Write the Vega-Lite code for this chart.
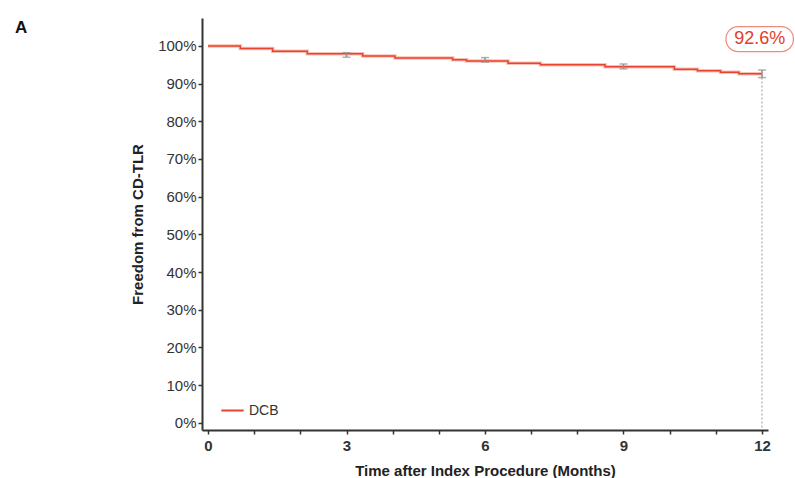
{
  "$schema": "https://vega.github.io/schema/vega-lite/v6.json",
  "width": 566,
  "height": 412,
  "autosize": "none",
  "padding": {"left": 202, "top": 18, "right": 27, "bottom": 48},
  "background": "white",
  "config": {
    "view": {"stroke": null},
    "font": "Liberation Sans",
    "axis": {"grid": false, "domainColor": "#333", "domainWidth": 2, "tickColor": "#333", "tickWidth": 1.5, "tickSize": 4, "labelColor": "#333", "titleColor": "#222", "labelFont": "Liberation Sans", "titleFont": "Liberation Sans"}
  },
  "datasets": {
    "curve": [
      {"month": 0, "surv": 100, "group": "DCB"},
      {"month": 0.7, "surv": 99.3, "group": "DCB"},
      {"month": 1.4, "surv": 98.6, "group": "DCB"},
      {"month": 2.15, "surv": 97.9, "group": "DCB"},
      {"month": 3.35, "surv": 97.3, "group": "DCB"},
      {"month": 4.05, "surv": 96.8, "group": "DCB"},
      {"month": 5.3, "surv": 96.3, "group": "DCB"},
      {"month": 5.6, "surv": 96.0, "group": "DCB"},
      {"month": 6.5, "surv": 95.4, "group": "DCB"},
      {"month": 7.2, "surv": 95.0, "group": "DCB"},
      {"month": 8.6, "surv": 94.5, "group": "DCB"},
      {"month": 10.1, "surv": 93.8, "group": "DCB"},
      {"month": 10.6, "surv": 93.4, "group": "DCB"},
      {"month": 11.1, "surv": 93.0, "group": "DCB"},
      {"month": 11.5, "surv": 92.6, "group": "DCB"},
      {"month": 12, "surv": 92.6, "group": "DCB"}
    ],
    "ci": [
      {"month": 3, "lo": 97.0, "hi": 98.2},
      {"month": 6, "lo": 95.7, "hi": 96.9},
      {"month": 9, "lo": 93.9, "hi": 95.2},
      {"month": 12, "lo": 91.6, "hi": 93.6}
    ],
    "drop": [{"month": 12, "top": 91.6, "bottom": -1.9}],
    "box": [{"x1": 11.22, "x2": 12.68, "y1": 98.5, "y2": 105.1, "label": "92.6%", "xm": 11.95, "ym": 101.8}],
    "panel": [{"px": -4.05, "py": 104.8, "label": "A"}]
  },
  "layer": [
    {
      "data": {"name": "drop"},
      "mark": {"type": "rule", "strokeDash": [2, 2], "color": "#9a9a9a", "strokeWidth": 1},
      "encoding": {
        "x": {"field": "month", "type": "quantitative", "scale": {"domain": [-0.13, 12.13], "nice": false, "zero": false},
          "axis": {"values": [0,1,2,3,4,5,6,7,8,9,10,11,12], "labelExpr": "datum.value % 3 === 0 ? datum.label : ''", "title": "Time after Index Procedure (Months)", "titleFontSize": 15, "titleFontWeight": "bold", "titlePadding": 10, "labelFontSize": 15, "labelFontWeight": "bold", "labelPadding": 4, "labelFlush": false}},
        "y": {"field": "top", "type": "quantitative", "scale": {"domain": [-1.9, 107.4], "nice": false, "zero": false},
          "axis": {"values": [0,10,20,30,40,50,60,70,80,90,100], "labelExpr": "datum.value + '%'", "title": "Freedom from CD-TLR", "titleFontSize": 15, "titleFontWeight": "bold", "titlePadding": 12, "labelFontSize": 15, "labelPadding": 2}},
        "y2": {"field": "bottom"}
      }
    },
    {
      "data": {"name": "curve"},
      "mark": {"type": "line", "interpolate": "step-after", "color": "#f8c0b6", "strokeWidth": 3.5},
      "encoding": {
        "x": {"field": "month", "type": "quantitative"},
        "y": {"field": "surv", "type": "quantitative"}
      }
    },
    {
      "data": {"name": "curve"},
      "mark": {"type": "line", "interpolate": "step-after", "strokeWidth": 1.5},
      "encoding": {
        "x": {"field": "month", "type": "quantitative"},
        "y": {"field": "surv", "type": "quantitative"},
        "color": {"field": "group", "type": "nominal", "scale": {"range": ["#e8432c"]},
          "legend": {"title": null, "orient": "none", "legendX": 18, "legendY": 380, "symbolType": "stroke", "symbolStrokeWidth": 2, "symbolSize": 500, "labelFontSize": 14, "labelColor": "#333", "labelFont": "Liberation Sans", "symbolStrokeColor": "#f07a68"}}
      }
    },
    {
      "data": {"name": "ci"},
      "mark": {"type": "rule", "color": "#8f8f8f", "strokeWidth": 1.5},
      "encoding": {
        "x": {"field": "month", "type": "quantitative"},
        "y": {"field": "lo", "type": "quantitative"},
        "y2": {"field": "hi"}
      }
    },
    {
      "data": {"name": "ci"},
      "mark": {"type": "tick", "orient": "horizontal", "color": "#8f8f8f", "thickness": 1.5, "size": 8},
      "encoding": {
        "x": {"field": "month", "type": "quantitative"},
        "y": {"field": "lo", "type": "quantitative"}
      }
    },
    {
      "data": {"name": "ci"},
      "mark": {"type": "tick", "orient": "horizontal", "color": "#8f8f8f", "thickness": 1.5, "size": 8},
      "encoding": {
        "x": {"field": "month", "type": "quantitative"},
        "y": {"field": "hi", "type": "quantitative"}
      }
    },
    {
      "data": {"name": "box"},
      "mark": {"type": "rect", "fill": "white", "stroke": "#f08a7a", "strokeWidth": 1.2, "cornerRadius": 12},
      "encoding": {
        "x": {"field": "x1", "type": "quantitative"},
        "x2": {"field": "x2"},
        "y": {"field": "y1", "type": "quantitative"},
        "y2": {"field": "y2"}
      }
    },
    {
      "data": {"name": "box"},
      "mark": {"type": "text", "color": "#e0402a", "fontSize": 18, "font": "Liberation Sans", "align": "center", "baseline": "middle"},
      "encoding": {
        "x": {"field": "xm", "type": "quantitative"},
        "y": {"field": "ym", "type": "quantitative"},
        "text": {"field": "label"}
      }
    },
    {
      "data": {"name": "panel"},
      "mark": {"type": "text", "color": "#111", "fontSize": 17, "fontWeight": "bold", "font": "Liberation Sans", "align": "center", "baseline": "middle"},
      "encoding": {
        "x": {"field": "px", "type": "quantitative"},
        "y": {"field": "py", "type": "quantitative"},
        "text": {"field": "label"}
      }
    }
  ]
}
